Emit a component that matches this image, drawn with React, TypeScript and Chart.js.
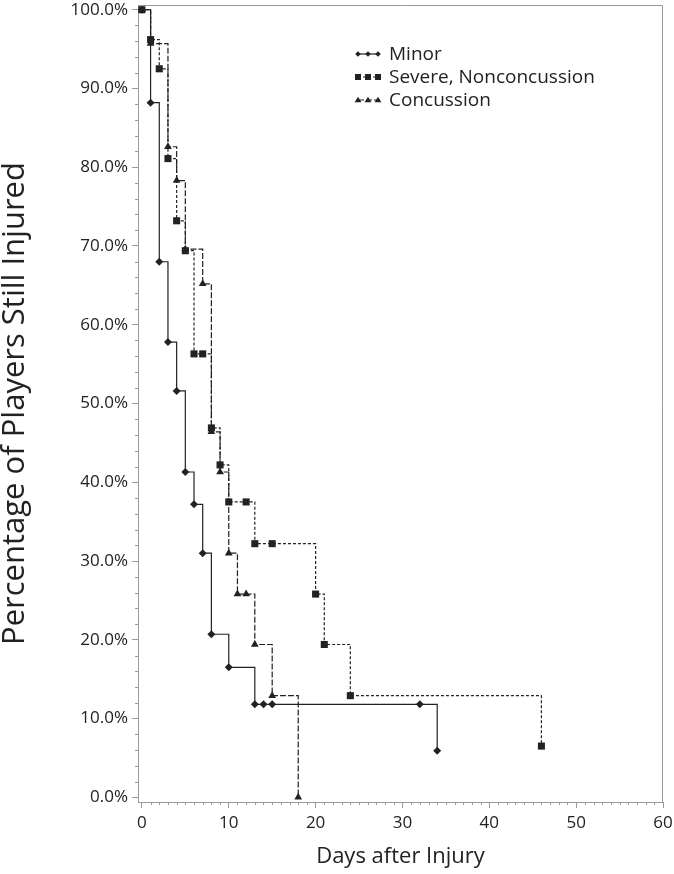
import React, { useEffect, useRef } from "react";
import { Chart, registerables } from "chart.js";

Chart.register(...registerables);

// ---- data ----
const minorDays = [0, 1, 2, 3, 4, 5, 6, 7, 8, 10, 13, 14, 15, 32, 34];
const minorPct = [100, 88.2, 68.0, 57.8, 51.6, 41.3, 37.2, 31.0, 20.7, 16.5, 11.8, 11.8, 11.8, 11.8, 5.9];

const severeDays = [0, 1, 2, 3, 4, 5, 6, 7, 8, 9, 10, 12, 13, 15, 20, 21, 24, 46];
const severePct = [100, 96.2, 92.5, 81.1, 73.2, 69.4, 56.3, 56.3, 46.9, 42.2, 37.5, 37.5, 32.2, 32.2, 25.8, 19.4, 12.9, 6.5];

const concDays = [0, 1, 3, 4, 5, 7, 8, 9, 10, 11, 12, 13, 15, 18];
const concPct = [100, 95.7, 82.6, 78.3, 69.6, 65.2, 46.4, 41.3, 31.0, 25.8, 25.8, 19.4, 12.9, 0];

const seriesNames = ["Minor", "Severe, Nonconcussion", "Concussion"];
const xTicks = [0, 10, 20, 30, 40, 50, 60];
const yTicks = [0, 10, 20, 30, 40, 50, 60, 70, 80, 90, 100];

const FONT = '"Open Sans", "Noto Sans", sans-serif';
const INK = "#222";
const AXIS = "#9a9a9a";

const toPts = (xs: number[], ys: number[]) => xs.map((x, i) => ({ x, y: ys[i] }));

function drawMarker(ctx: CanvasRenderingContext2D, style: string, x: number, y: number, r: number) {
  ctx.beginPath();
  if (style === "rectRot") {
    ctx.moveTo(x, y - r);
    ctx.lineTo(x + r, y);
    ctx.lineTo(x, y + r);
    ctx.lineTo(x - r, y);
  } else if (style === "rect") {
    ctx.rect(x - r, y - r, 2 * r, 2 * r);
  } else {
    ctx.moveTo(x, y - r);
    ctx.lineTo(x + r * 1.05, y + r * 0.7);
    ctx.lineTo(x - r * 1.05, y + r * 0.7);
  }
  ctx.closePath();
  ctx.fill();
}

const extrasPlugin = {
  id: "extras",
  afterDraw(chart: any) {
    const { ctx, chartArea, scales } = chart;
    const xs = scales.x;
    const ys = scales.y;
    ctx.save();
    // frame top/right
    ctx.strokeStyle = AXIS;
    ctx.lineWidth = 1;
    ctx.beginPath();
    ctx.moveTo(chartArea.left, chartArea.top + 0.5);
    ctx.lineTo(chartArea.right - 0.5, chartArea.top + 0.5);
    ctx.lineTo(chartArea.right - 0.5, chartArea.bottom);
    ctx.stroke();
    // minor ticks
    ctx.beginPath();
    for (let d = 1; d < 60; d++) {
      if (d % 10 === 0) continue;
      const px = Math.round(xs.getPixelForValue(d)) + 0.5;
      ctx.moveTo(px, chartArea.bottom);
      ctx.lineTo(px, chartArea.bottom + 3);
    }
    for (let v = 2; v < 100; v += 2) {
      if (v % 10 === 0) continue;
      const py = Math.round(ys.getPixelForValue(v)) + 0.5;
      ctx.moveTo(chartArea.left, py);
      ctx.lineTo(chartArea.left - 3, py);
    }
    ctx.stroke();

    // legend
    const styles = ["rectRot", "rect", "triangle"];
    const dashes = [[], [3, 2], [6, 2]];
    const sizes = [2.8, 3, 3.2];
    const x0 = 358;
    const rowY = [54, 77, 100];
    ctx.font = `19px ${FONT}`;
    ctx.textBaseline = "middle";
    ctx.textAlign = "left";
    for (let i = 0; i < 3; i++) {
      const y = rowY[i];
      ctx.strokeStyle = INK;
      ctx.lineWidth = 1.2;
      ctx.setLineDash(dashes[i]);
      ctx.beginPath();
      ctx.moveTo(x0, y);
      ctx.lineTo(x0 + 22, y);
      ctx.stroke();
      ctx.setLineDash([]);
      ctx.fillStyle = INK;
      for (let k = 0; k < 3; k++) drawMarker(ctx, styles[i], x0 + k * 10, y, sizes[i]);
      ctx.fillStyle = "#222";
      ctx.fillText(seriesNames[i], x0 + 31, y + 1);
    }
    ctx.restore();
  },
};

export default function App() {
  const ref = useRef<HTMLCanvasElement | null>(null);
  useEffect(() => {
    if (!ref.current) return;
    const common = {
      borderColor: INK,
      backgroundColor: INK,
      pointBorderColor: INK,
      pointBackgroundColor: INK,
      borderWidth: 1.2,
      stepped: "before" as const,
      fill: false,
      tension: 0,
      pointBorderWidth: 0,
    };
    const chart = new Chart(ref.current, {
      type: "line",
      data: {
        datasets: [
          {
            ...common,
            label: seriesNames[0],
            data: toPts(minorDays, minorPct),
            pointStyle: "rectRot",
            pointRadius: 4,
          },
          {
            ...common,
            label: seriesNames[1],
            data: toPts(severeDays, severePct),
            borderDash: [3, 2],
            pointStyle: "rect",
            pointRadius: 5,
          },
          {
            ...common,
            label: seriesNames[2],
            data: toPts(concDays, concPct),
            borderDash: [6, 2],
            pointStyle: "triangle",
            pointRadius: 4.5,
          },
        ],
      },
      options: {
        animation: false,
        responsive: false,
        maintainAspectRatio: false,
        layout: { padding: { top: 2, right: 11, left: 0, bottom: 0 } },
        plugins: { legend: { display: false }, tooltip: { enabled: false } },
        scales: {
          x: {
            type: "linear",
            min: -0.45,
            max: 60,
            afterBuildTicks: (s: any) => {
              s.ticks = xTicks.map((v) => ({ value: v }));
            },
            afterFit: (s: any) => {
              s.height = 72;
              s.paddingLeft = 0;
              s.paddingRight = 0;
            },
            grid: { drawOnChartArea: false, tickLength: 6, color: AXIS },
            border: { color: AXIS, width: 1 },
            ticks: { color: "#222", font: { family: FONT, size: 17 }, padding: 5, maxRotation: 0 },
            title: {
              display: true,
              text: "Days after Injury",
              color: "#222",
              font: { family: FONT, size: 22 },
              padding: { top: 0, bottom: 4 },
            },
          },
          y: {
            type: "linear",
            min: -0.6,
            max: 100.6,
            afterBuildTicks: (s: any) => {
              s.ticks = yTicks.map((v) => ({ value: v }));
            },
            afterFit: (s: any) => {
              s.width = 138;
              s.paddingTop = 0;
              s.paddingBottom = 0;
            },
            grid: { drawOnChartArea: false, tickLength: 6, color: AXIS },
            border: { color: AXIS, width: 1 },
            ticks: {
              color: "#222",
              font: { family: FONT, size: 17 },
              padding: 4,
              callback: (v: any) => Number(v).toFixed(1) + "%",
            },
            title: {
              display: true,
              text: "Percentage of Players Still Injured",
              color: "#222",
              font: { family: FONT, size: 31 },
              padding: { top: -3, bottom: 0 },
            },
          },
        },
      },
      plugins: [extrasPlugin],
    });
    return () => chart.destroy();
  }, []);
  return (
    <div style={{ position: "fixed", left: 0, top: 0, width: 674, height: 874, background: "#fff" }}>
      <canvas ref={ref} width={674} height={874} style={{ width: 674, height: 874, display: "block" }} />
    </div>
  );
}
